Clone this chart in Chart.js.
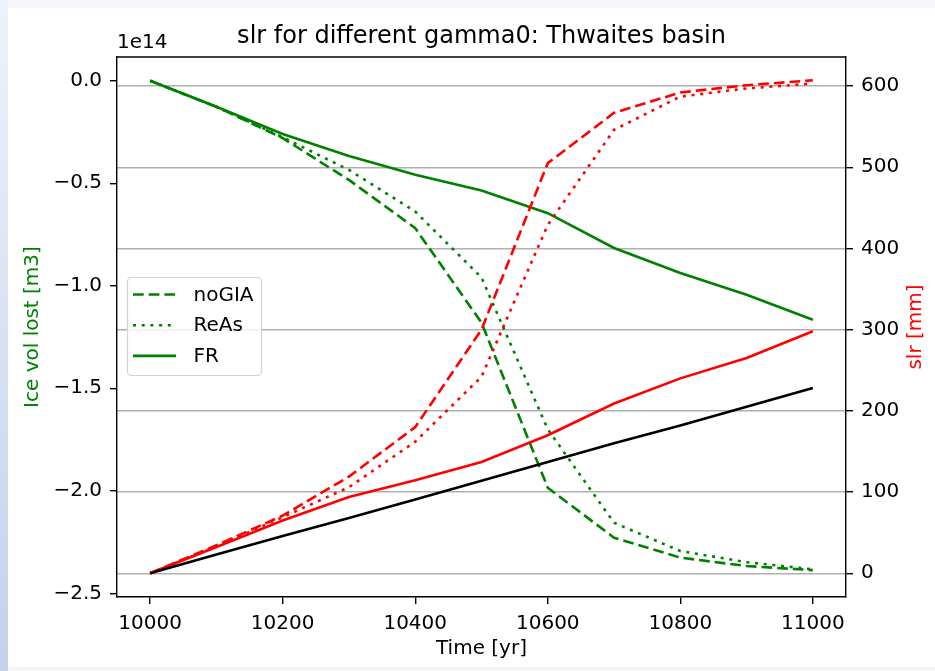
<!DOCTYPE html>
<html>
<head>
<meta charset="utf-8">
<script src="https://cdn.jsdelivr.net/npm/chart.js@4/dist/chart.umd.min.js"></script>
<style>
  html, body { margin: 0; padding: 0; background: #f4f6fa; }
  #wrap { position: relative; width: 935px; height: 671px; }
</style>
</head>
<body>
<div id="wrap"><canvas id="chartSlr" width="935" height="671"></canvas></div>
<script>
const years = [10000, 10100, 10200, 10300, 10400, 10500, 10600, 10700, 10800, 10900, 11000];

// ice volume lost, in units of 1e14 m3 (left axis)
const iceNoGIA = [0, -0.127, -0.28, -0.484, -0.719, -1.18, -1.985, -2.229, -2.326, -2.367, -2.387];
const iceReAs = [0, -0.127, -0.276, -0.435, -0.638, -0.96, -1.70, -2.156, -2.294, -2.348, -2.383];
const iceFR = [0, -0.127, -0.26, -0.367, -0.459, -0.535, -0.646, -0.816, -0.938, -1.044, -1.166];

// sea level rise in mm (right axis)
const slrNoGIA = [0, 34.5, 71, 119, 180, 300, 505, 567, 592, 601, 607];
const slrReAs = [0, 33, 69, 106, 162, 242, 429, 546, 587, 597, 603];
const slrFR = [0, 32.4, 65, 94, 114.6, 137, 170, 209, 240, 265, 298];
const slrRef = [0, 23, 46, 68, 91, 114, 137, 160, 182, 205, 228];

const xTicks = [10000, 10200, 10400, 10600, 10800, 11000];
const iceTicks = [-2.5, -2.0, -1.5, -1.0, -0.5, 0];
const iceTickLabels = ["\u22122.5", "\u22122.0", "\u22121.5", "\u22121.0", "\u22120.5", "0.0"];
const slrTicks = [0, 100, 200, 300, 400, 500, 600];
const legendLabels = ["noGIA", "ReAs", "FR"];

const GREEN = "#008000";
const RED = "#ff0000";
const FONT = '"DejaVu Sans", sans-serif';
const TICK_SIZE = 20;
const DASHED = [10.7, 5];
const DOTTED = [3, 5.7];

function series(values, axis, color, dash, label, order) {
  return {
    label: label,
    data: years.map((t, i) => ({ x: t, y: values[i] })),
    yAxisID: axis,
    borderColor: color,
    backgroundColor: color,
    borderDash: dash,
    borderWidth: 2.6,
    borderCapStyle: "butt",
    pointRadius: 0,
    pointHoverRadius: 0,
    tension: 0,
    fill: false,
    order: order
  };
}

const datasets = [
  series(iceNoGIA, "ice", GREEN, DASHED, legendLabels[0], 3),
  series(iceReAs, "ice", GREEN, DOTTED, legendLabels[1], 3),
  series(iceFR, "ice", GREEN, [], legendLabels[2], 3),
  series(slrNoGIA, "slr", RED, DASHED, "", 2),
  series(slrReAs, "slr", RED, DOTTED, "", 2),
  series(slrFR, "slr", RED, [], "", 2),
  series(slrRef, "slr", "#000000", [], "", 1)
];

// page background, frame, titles and the legend box
const decor = {
  id: "decor",
  beforeDraw(chart) {
    const { ctx, width, height } = chart;
    ctx.save();
    ctx.fillStyle = "#f4f6fa";
    ctx.fillRect(0, 0, width, height);
    const g = ctx.createLinearGradient(0, 0, 0, height);
    g.addColorStop(0, "#eef2fa");
    g.addColorStop(1, "#c3d1ec");
    ctx.fillStyle = g;
    ctx.fillRect(0, 0, 8, height);
    ctx.fillStyle = "#ffffff";
    ctx.fillRect(8, 8, width - 8, height - 12);
    ctx.restore();
  },
  afterDatasetsDraw(chart) {
    const { ctx, chartArea: ca } = chart;
    const bx = ca.left + 10.5, by = 277.5, bw = 134, bh = 98;
    ctx.save();
    ctx.beginPath();
    ctx.roundRect(bx, by, bw, bh, 4);
    ctx.fillStyle = "rgba(255,255,255,0.8)";
    ctx.fill();
    ctx.strokeStyle = "#d3d3d3";
    ctx.lineWidth = 1.2;
    ctx.stroke();
    ctx.font = TICK_SIZE + "px " + FONT;
    ctx.textBaseline = "middle";
    ctx.fillStyle = "#000";
    for (let i = 0; i < 3; i++) {
      const ds = chart.data.datasets[i];
      const y = by + 17 + i * 30.7;
      ctx.beginPath();
      ctx.setLineDash(ds.borderDash);
      ctx.lineCap = "butt";
      ctx.strokeStyle = ds.borderColor;
      ctx.lineWidth = ds.borderWidth;
      ctx.moveTo(bx + 5.5, y);
      ctx.lineTo(bx + 48.5, y);
      ctx.stroke();
      ctx.fillText(ds.label, bx + 66, y + 1);
    }
    ctx.restore();
  },
  afterDraw(chart) {
    const { ctx, chartArea: ca } = chart;
    ctx.save();
    ctx.strokeStyle = "#000";
    ctx.lineWidth = 1.4;
    ctx.beginPath();
    ctx.moveTo(ca.left, ca.top);
    ctx.lineTo(ca.right, ca.top);
    ctx.stroke();

    const midX = (ca.left + ca.right) / 2;
    const midY = (ca.top + ca.bottom) / 2;
    ctx.fillStyle = "#000";
    ctx.textAlign = "center";
    ctx.textBaseline = "alphabetic";
    ctx.font = "24px " + FONT;
    ctx.fillText("slr for different gamma0: Thwaites basin", midX, 43);

    ctx.font = TICK_SIZE + "px " + FONT;
    ctx.textAlign = "left";
    ctx.fillText("1e14", ca.left, 48);

    ctx.textAlign = "center";
    ctx.textBaseline = "middle";
    ctx.fillText("Time [yr]", midX, 649);

    ctx.save();
    ctx.translate(32.5, midY);
    ctx.rotate(-Math.PI / 2);
    ctx.fillStyle = GREEN;
    ctx.fillText("Ice vol lost [m3]", 0, 0);
    ctx.restore();

    ctx.save();
    ctx.translate(916, midY);
    ctx.rotate(-Math.PI / 2);
    ctx.fillStyle = RED;
    ctx.fillText("slr [mm]", 0, 0);
    ctx.restore();
    ctx.restore();
  }
};

const tickFont = { family: FONT, size: TICK_SIZE };

new Chart(document.getElementById("chartSlr"), {
  type: "line",
  data: { datasets: datasets },
  options: {
    responsive: false,
    animation: false,
    devicePixelRatio: 1,
    layout: { padding: { top: 57, left: 0, right: 0, bottom: 0 } },
    plugins: { legend: { display: false }, tooltip: { enabled: false }, title: { display: false } },
    scales: {
      x: {
        type: "linear",
        min: 9950,
        max: 11050,
        afterBuildTicks: s => { s.ticks = xTicks.map(v => ({ value: v })); },
        afterFit: s => { s.height = 74; },
        ticks: { font: tickFont, color: "#000", padding: 8, maxRotation: 0, callback: v => String(v) },
        grid: { drawOnChartArea: false, tickLength: 7, tickColor: "#000", lineWidth: 1.4 },
        border: { display: true, color: "#000", width: 1.4 }
      },
      ice: {
        type: "linear",
        position: "left",
        min: -2.518,
        max: 0.1156,
        afterBuildTicks: s => { s.ticks = iceTicks.map(v => ({ value: v })); },
        afterFit: s => { s.width = 117; },
        ticks: { font: tickFont, color: "#000", padding: 8, callback: v => iceTickLabels[iceTicks.indexOf(v)] },
        grid: { drawOnChartArea: false, tickLength: 7, tickColor: "#000", lineWidth: 1.4 },
        border: { display: true, color: "#000", width: 1.4 }
      },
      slr: {
        type: "linear",
        position: "right",
        min: -29.2,
        max: 635.7,
        afterBuildTicks: s => { s.ticks = slrTicks.map(v => ({ value: v })); },
        afterFit: s => { s.width = 89; },
        ticks: { font: tickFont, color: "#000", padding: 8, callback: v => String(v) },
        grid: { drawOnChartArea: true, color: "#b0b0b0", tickColor: "#000", lineWidth: 1.4, tickLength: 7 },
        border: { display: true, color: "#000", width: 1.4 }
      }
    }
  },
  plugins: [decor]
});
</script>
</body>
</html>
